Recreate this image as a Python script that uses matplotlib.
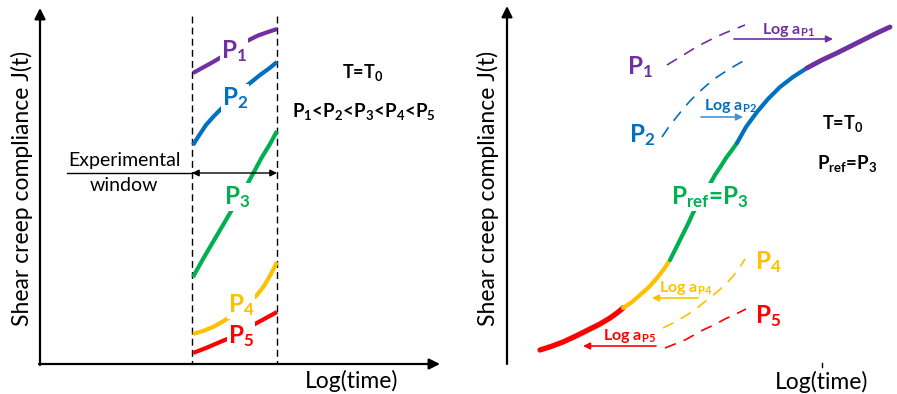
import matplotlib
matplotlib.use("Agg")
import matplotlib.pyplot as plt

plt.rcParams['font.family'] = ['Lato', 'DejaVu Sans']
plt.rcParams['mathtext.default'] = 'regular'

# colours
PURPLE = '#7030A0'
BLUE = '#0070C0'
GREEN = '#00B050'
YELLOW = '#FFC000'
RED = '#FF0000'

# ---- left panel: curves inside the experimental window (pixel-like coords) ----
win_x = [192, 277]
p1_x = [193, 203, 213, 224, 236, 248, 258, 268, 277]
p1_y = [73, 67.5, 62, 55.5, 48, 40.5, 35.5, 32, 29]
p2_x = [193, 199, 206, 214, 223, 233, 243, 252, 260, 269, 277]
p2_y = [145, 135.5, 125, 116, 107, 97, 88.5, 81.5, 75, 68.5, 62]
p3_x = [193, 203, 213, 223, 233, 241, 248, 255, 262, 270, 277]
p3_y = [277, 259, 242, 225, 208, 195, 183, 170, 157, 144, 131]
p4_x = [193, 203, 213, 222, 230, 239, 248, 257, 264, 271, 277]
p4_y = [334, 331, 327, 322, 317, 310, 303, 295, 286, 274, 262]
p5_x = [193, 206, 220, 232, 244, 255, 266, 277]
p5_y = [353, 348, 342, 337, 330.5, 324, 318, 312]

# ---- right panel: master curve split by pressure ----
red_x = [540, 551, 563, 576, 590, 600, 610, 617, 623]
red_y = [350, 346.5, 342, 336, 329, 324, 318, 313, 308]
yel_x = [623, 632, 640, 649, 657, 664, 670]
yel_y = [308, 302, 295, 287, 278, 269, 260]
grn_x = [670, 676, 682, 688, 693, 699, 704, 710, 715, 721, 726, 732, 737]
grn_y = [260, 248, 236, 224, 213, 203, 193, 184, 175, 166, 158, 150, 143]
blu_x = [737, 746, 757, 768, 780, 793, 807]
blu_y = [143, 127, 112, 99, 87, 77, 68]
pur_x = [807, 822, 837, 850, 863, 877, 890]
pur_y = [68, 60, 53, 46.5, 40, 33, 27]

# dashed original data in right panel
d1_x = [667, 676, 685, 694, 703, 714, 725, 735, 745]
d1_y = [65, 59.5, 54, 48.5, 43.5, 38, 33, 29, 25]
d2_x = [662, 668, 675, 683, 690, 698, 707, 717, 731, 745]
d2_y = [137, 128, 119, 109, 101, 93, 85, 77, 68, 60]
d4_x = [663, 675, 687, 697, 707, 717, 727, 734, 740, 745]
d4_y = [328, 322, 315, 308, 300, 292, 283, 275, 267, 259]
d5_x = [665, 675, 685, 694, 703, 714, 725, 736, 746]
d5_y = [348, 344, 340, 335, 330, 325, 319, 314, 309]

fig = plt.figure(figsize=(8.97, 3.94), dpi=100)
ax = fig.add_axes([0, 0, 1, 1])
ax.set_xlim(0, 897)
ax.set_ylim(394, 0)
ax.axis('off')

axis_kw = dict(arrowstyle='-|>', color='black', lw=1.6, mutation_scale=16,
               shrinkA=0, shrinkB=0)

def draw_axes(x0, y0, top, right):
    ax.annotate('', xy=(x0, top), xytext=(x0, y0 + 1), arrowprops=axis_kw)
    ax.annotate('', xy=(right, y0), xytext=(x0 - 1, y0), arrowprops=axis_kw)

# left panel
draw_axes(40, 364, 8, 440)
for wx in win_x:
    ax.plot([wx, wx], [16, 364], color='black', lw=1, ls=(0, (5, 3)))

bbox = dict(facecolor='white', edgecolor='none', pad=0.5)
for xs, ys, c in [(p1_x, p1_y, PURPLE), (p2_x, p2_y, BLUE), (p3_x, p3_y, GREEN),
                  (p4_x, p4_y, YELLOW), (p5_x, p5_y, RED)]:
    ax.plot(xs, ys, color=c, lw=3, solid_capstyle='butt', solid_joinstyle='round')

lab_kw = dict(fontsize=17.5, fontweight='bold', ha='center', va='center', bbox=bbox)
ax.text(234, 51, 'P$_1$', color=PURPLE, **lab_kw)
ax.text(235, 98, 'P$_2$', color=BLUE, **lab_kw)
ax.text(237, 197, 'P$_3$', color=GREEN, **lab_kw)
ax.text(241, 305, 'P$_4$', color=YELLOW, **lab_kw)
ax.text(241, 336, 'P$_5$', color=RED, **lab_kw)

ax.plot([67, 192], [173, 173], color='black', lw=1)
ax.annotate('', xy=(192, 173), xytext=(277, 173),
            arrowprops=dict(arrowstyle='<|-|>', color='black', lw=1,
                            mutation_scale=10, shrinkA=0, shrinkB=0))
ax.text(124, 160, 'Experimental', fontsize=14, ha='center', va='center')
ax.text(124, 185, 'window', fontsize=14, ha='center', va='center')

ax.text(363, 72, 'T=T$_0$', fontsize=13, fontweight='bold', ha='center', va='center')
ax.text(364, 111, 'P$_1$<P$_2$<P$_3$<P$_4$<P$_5$', fontsize=13.5, fontweight='bold',
        ha='center', va='center')

ax.text(22, 188, 'Shear creep compliance J(t)', fontsize=16.5, rotation=90,
        ha='center', va='center')
ax.text(352, 388, 'Log(time)', fontsize=16.5, ha='center', va='baseline')

# right panel
draw_axes(507, 363, 6, 902)
ax.plot([822, 822], [363, 367], color='black', lw=1)

for xs, ys, c in [(d1_x, d1_y, PURPLE), (d2_x, d2_y, BLUE),
                  (d4_x, d4_y, YELLOW), (d5_x, d5_y, RED)]:
    ax.plot(xs, ys, color=c, lw=1.2, ls=(0, (7, 5)))

for xs, ys, c, w in [(red_x, red_y, RED, 3.8), (yel_x, yel_y, YELLOW, 3),
                     (grn_x, grn_y, GREEN, 3), (blu_x, blu_y, BLUE, 3),
                     (pur_x, pur_y, PURPLE, 3.5)]:
    ax.plot(xs, ys, color=c, lw=w, solid_capstyle='round', solid_joinstyle='round')

ax.text(640, 67, 'P$_1$', color=PURPLE, **lab_kw)
ax.text(642, 135, 'P$_2$', color=BLUE, **lab_kw)
ax.text(768, 262, 'P$_4$', color=YELLOW, **lab_kw)
ax.text(768, 316, 'P$_5$', color=RED, **lab_kw)
ax.text(710, 197, 'P$_{ref}$=P$_3$', color=GREEN, **lab_kw)

shift_kw = dict(arrowstyle='-|>', lw=1.2, mutation_scale=10, shrinkA=0, shrinkB=0)
shifts = [((734, 39), (833, 39), PURPLE, PURPLE, (788, 30), 'Log a$_{P1}$'),
          ((701, 117), (743, 117), '#3D95DA', BLUE, (730, 106), 'Log a$_{P2}$'),
          ((698, 298), (652, 298), YELLOW, YELLOW, (686, 288), 'Log a$_{P4}$'),
          ((656, 346), (583, 346), RED, RED, (629, 336), 'Log a$_{P5}$')]
for start, end, ac, tc, tpos, txt in shifts:
    ax.annotate('', xy=end, xytext=start, arrowprops=dict(color=ac, **shift_kw))
    ax.text(tpos[0], tpos[1], txt, color=tc, fontsize=11.5, fontweight='bold',
            ha='center', va='center')

ax.text(843, 123, 'T=T$_0$', fontsize=13, fontweight='bold', ha='center', va='center')
ax.text(847, 163, 'P$_{ref}$=P$_3$', fontsize=13.5, fontweight='bold',
        ha='center', va='center')

ax.text(488, 188, 'Shear creep compliance J(t)', fontsize=16.5, rotation=90,
        ha='center', va='center')
ax.text(822, 389, 'Log(time)', fontsize=16.5, ha='center', va='baseline')

fig.savefig('out.png', dpi=100)
